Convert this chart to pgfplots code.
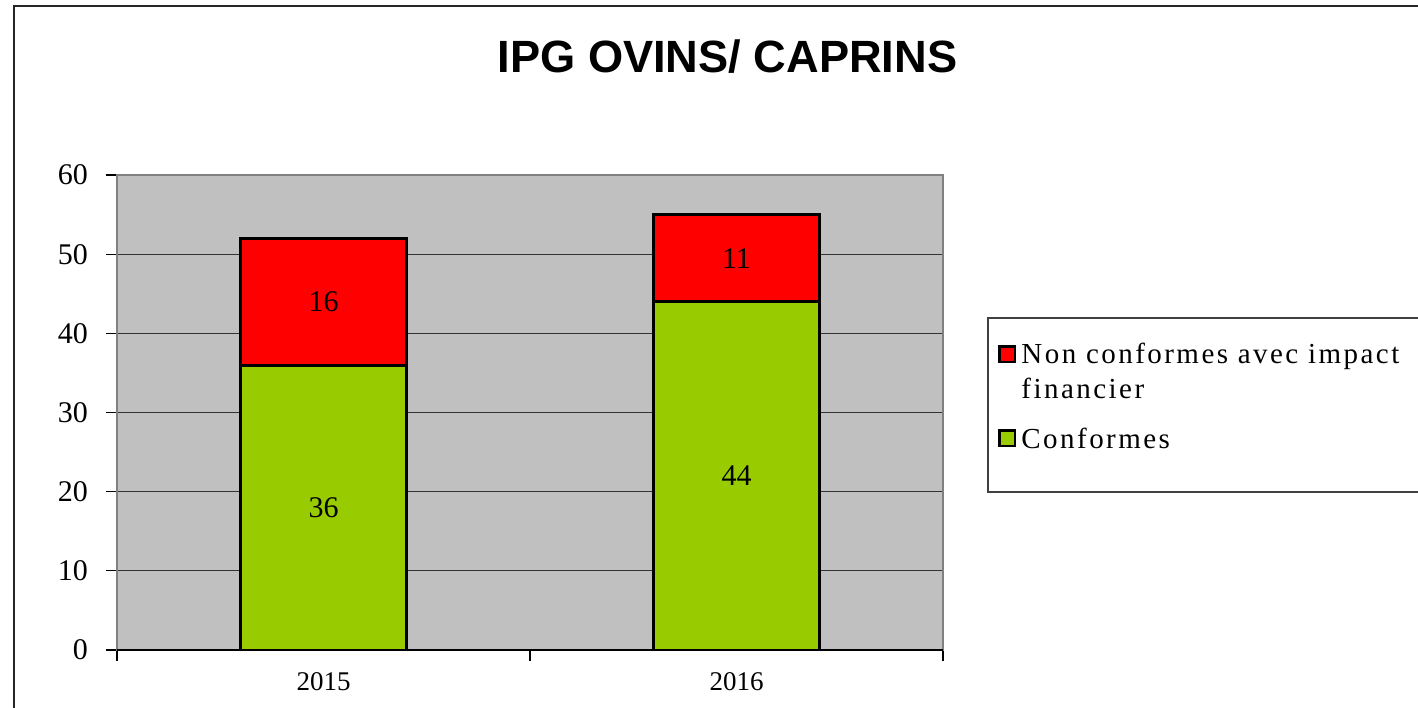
\documentclass[border=0pt]{standalone}
\usepackage{pgfplots}
\pgfplotsset{compat=1.18}
\usepackage{pgfplotstable}
\usepackage{fontspec}
\setmainfont{Liberation Serif}
\newfontfamily\titlefont{Liberation Sans}
\newfontfamily\legfont[LetterSpace=8.5]{Liberation Serif}
\definecolor{bggray}{HTML}{C0C0C0}
\definecolor{barred}{HTML}{FF0000}
\definecolor{bargreen}{HTML}{99CC00}
\pgfplotsset{
  greenleg/.style={legend image code/.code={\path[draw=none,fill=none] (0pt,0pt) -- (9.5pt,10.4pt);
    \draw[##1, line width=1.2pt, overlay] (0.6pt,-2.9pt) rectangle (8.4pt,4.9pt);}},
  redleg/.style={legend image code/.code={\path[draw=none,fill=none] (0pt,-15.9pt) -- (9.5pt,9pt);
    \draw[##1, line width=1.2pt, overlay] (0.6pt,5.1pt) rectangle (8.4pt,12.9pt);}},
}
\pgfplotstableread{
x c n
0 36 16
1 44 11
}\data
\begin{document}
\begin{tikzpicture}
\useasboundingbox (-58.5pt,-28.5pt) rectangle (650.5pt,325pt);
\draw[line width=1pt, black!85] (-51.5pt,-80pt) -- (-51.5pt,322pt) -- (720pt,322pt);
\draw[line width=0.6pt, black!75] (720pt,79pt) -- (435.5pt,79pt) -- (435.5pt,166pt) -- (720pt,166pt);
\node[font=\titlefont\bfseries\fontsize{22.6}{22.6}\selectfont, anchor=center] at (305.25pt,296.75pt) {IPG OVINS/ CAPRINS};
\begin{axis}[
  at={(0pt,0pt)}, anchor=south west,
  scale only axis, width=413pt, height=237.5pt,
  xmin=-0.5, xmax=1.5, ymin=0, ymax=60,
  ybar stacked, bar width=83pt,
  xtick={-0.5,0.5,1.5}, x tick label as interval, xticklabels={2015,2016},
  ytick={0,10,20,30,40,50,60},
  ymajorgrids, grid style={black!80, line width=0.6pt},
  axis background/.style={fill=bggray},
  tick align=outside, major tick length=5.5pt,
  tick pos=left,
  tick style={black, line width=0.6pt},
  axis line style={draw=black!50, line width=1pt},
  /pgf/number format/assume math mode=true,
  yticklabel style={font=\fontsize{15}{15}\selectfont, xshift=-5.5pt},
  xticklabel style={font=\fontsize{13.5}{13.5}\selectfont, yshift=-2pt},
  legend style={at={(rel axis cs:1.0666,0.6555)}, anchor=north west, draw=none, fill=none,
    font=\legfont\fontsize{14.5}{17.5}\selectfont, cells={align=left}, row sep=7pt, inner sep=0pt},
  legend cell align=left,
  reverse legend,
  after end axis/.code={\draw[black, line width=0.8pt] (rel axis cs:0,0) -- (rel axis cs:1,0);},
]
\addplot[fill=bargreen, draw=black, line width=1.5pt,
  visualization depends on={\thisrow{c} \as \segval},
  nodes near coords={\pgfmathprintnumber{\segval}},
  every node near coord/.append style={anchor=center, font=\fontsize{15}{15}\selectfont, text=black},
  greenleg]
  table[x=x, y=c] {\data};
\addlegendentry{Conformes}
\addplot[fill=barred, draw=black, line width=1.5pt,
  visualization depends on={\thisrow{n} \as \segval},
  nodes near coords={\pgfmathprintnumber{\segval}},
  every node near coord/.append style={anchor=center, font=\fontsize{15}{15}\selectfont, text=black},
  redleg]
  table[x=x, y=n] {\data};
\addlegendentry{Non conformes avec impact\\financier}
\end{axis}
\end{tikzpicture}
\end{document}
